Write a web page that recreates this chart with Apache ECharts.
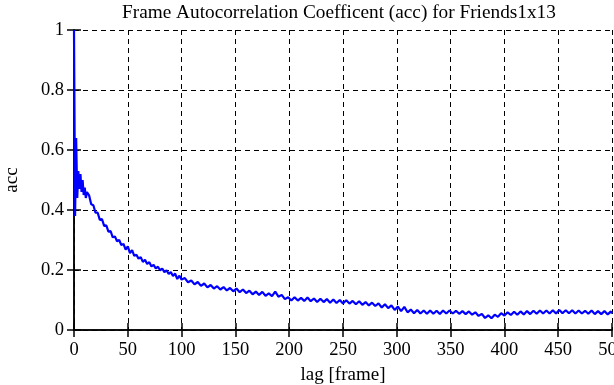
<!DOCTYPE html>
<html>
<head>
<meta charset="utf-8">
<script src="https://cdn.jsdelivr.net/npm/echarts@6/dist/echarts.min.js"></script>
<style>
  html, body { margin: 0; padding: 0; background: #fff; }
  #main { width: 614px; height: 385px; }
</style>
</head>
<body>
<div id="main"></div>
<script>
// lag [frame] samples
var lags = [
  0, 1, 2, 3, 4, 5, 6, 7, 8, 9, 10, 11, 12,
  14, 16, 18, 20, 22, 24, 26, 28, 30, 32, 34, 36, 38, 40, 42, 44, 46, 48, 50,
  52, 54, 56, 58, 60, 62, 64, 66, 68, 70, 72, 74, 76, 78, 80, 82, 84, 86, 88,
  90, 92, 94, 96, 98, 100,
  103, 106, 109, 112, 115, 118, 121, 124, 127, 130, 133, 136, 139, 142, 145,
  148, 151, 154, 157, 160, 163, 166, 169, 172, 175, 178, 181, 184, 187, 190,
  193, 196, 199, 202, 205, 208, 211, 214, 217, 220, 223, 226, 229, 232, 235,
  238, 241, 244, 247, 250, 253, 256, 259, 262, 265, 268, 271, 274, 277, 280,
  283, 286, 289, 292, 295, 298, 301, 304, 307, 310, 313, 316, 319, 322, 325,
  328, 331, 334, 337, 340, 343, 346, 349, 352, 355, 358, 361, 364, 367, 370,
  373, 376, 379, 382, 385, 388, 391, 394, 397, 400, 403, 406, 409, 412, 415,
  418, 421, 424, 427, 430, 433, 436, 439, 442, 445, 448, 451, 454, 457, 460,
  463, 466, 469, 472, 475, 478, 481, 484, 487, 490, 493, 496, 499, 500
];
// acc values
var acc = [
  1.0, 0.38, 0.64, 0.44, 0.53, 0.47, 0.52, 0.46, 0.50, 0.45, 0.475, 0.44, 0.46,
  0.449, 0.419, 0.416, 0.391, 0.391, 0.367, 0.370, 0.347, 0.349, 0.328, 0.330, 0.309, 0.312, 0.296, 0.300, 0.283, 0.287, 0.268, 0.279,
  0.256, 0.266, 0.247, 0.251, 0.238, 0.243, 0.227, 0.234, 0.220, 0.226, 0.212, 0.217, 0.205, 0.211, 0.199, 0.205, 0.193, 0.199, 0.187,
  0.193, 0.180, 0.188, 0.170, 0.181, 0.168,
  0.173, 0.159, 0.165, 0.152, 0.160, 0.147, 0.155, 0.142, 0.150, 0.138, 0.146, 0.135, 0.143, 0.132, 0.140,
  0.129, 0.138, 0.126, 0.135, 0.123, 0.131, 0.119, 0.128, 0.117, 0.127, 0.114, 0.122, 0.113, 0.128, 0.111,
  0.117, 0.103, 0.109, 0.098, 0.109, 0.098, 0.107, 0.097, 0.108, 0.096, 0.105, 0.093, 0.104, 0.093, 0.103,
  0.091, 0.102, 0.090, 0.100, 0.088, 0.099, 0.088, 0.097, 0.086, 0.096, 0.084, 0.093, 0.082, 0.091, 0.080,
  0.089, 0.075, 0.086, 0.073, 0.082, 0.067, 0.078, 0.063, 0.077, 0.059, 0.068, 0.056, 0.067, 0.055, 0.065,
  0.054, 0.065, 0.054, 0.064, 0.053, 0.065, 0.055, 0.065, 0.055, 0.064, 0.054, 0.063, 0.053, 0.062, 0.051,
  0.059, 0.047, 0.054, 0.040, 0.049, 0.039, 0.051, 0.044, 0.056, 0.048, 0.059, 0.050, 0.061, 0.051, 0.062,
  0.052, 0.063, 0.053, 0.064, 0.054, 0.065, 0.055, 0.065, 0.055, 0.066, 0.055, 0.067, 0.056, 0.066, 0.056,
  0.066, 0.055, 0.065, 0.055, 0.064, 0.054, 0.065, 0.053, 0.063, 0.053, 0.063, 0.052, 0.062, 0.055
];

var titleText = 'Frame Autocorrelation Coefficent (acc) for Friends1x13';
var xName = 'lag [frame]';
var yName = 'acc';

var font = 'Liberation Serif';
var points = [];
for (var i = 0; i < lags.length; i++) {
  points.push([lags[i], acc[i]]);
}

var chart = echarts.init(document.getElementById('main'), null, { renderer: 'canvas' });

var frameLine = { show: true, lineStyle: { color: '#000', width: 1.5 } };
var ticksIn = { show: true, inside: true, length: 7, lineStyle: { color: '#000', width: 1.5 } };
var dashed = { show: true, lineStyle: { color: '#000', width: 1, type: [5, 4] } };

chart.setOption({
  animation: false,
  backgroundColor: '#fff',
  title: {
    text: titleText,
    left: 117,
    top: -2,
    textStyle: { fontFamily: font, fontSize: 19.3, fontWeight: 'normal', color: '#000' }
  },
  grid: { left: 74, right: 2, top: 30, bottom: 55, containLabel: false, outerBoundsMode: 'none' },
  xAxis: [{
    type: 'value',
    min: 0, max: 500, interval: 50,
    name: xName,
    nameLocation: 'middle',
    nameGap: 36,
    nameTextStyle: { fontFamily: font, fontSize: 19, color: '#000' },
    axisLine: frameLine,
    axisTick: ticksIn,
    splitLine: dashed,
    axisLabel: { fontFamily: font, fontSize: 18.5, color: '#000', margin: 11 }
  }, {
    type: 'value',
    position: 'top',
    min: 0, max: 500, interval: 50,
    axisLine: frameLine,
    axisTick: ticksIn,
    splitLine: { show: false },
    axisLabel: { show: false }
  }],
  yAxis: [{
    type: 'value',
    min: 0, max: 1, interval: 0.2,
    name: yName,
    nameLocation: 'middle',
    nameGap: 52,
    nameTextStyle: { fontFamily: font, fontSize: 19, color: '#000' },
    axisLine: frameLine,
    axisTick: ticksIn,
    splitLine: dashed,
    axisLabel: { fontFamily: font, fontSize: 18.5, color: '#000', margin: 10, padding: [4, 0, 0, 0] }
  }, {
    type: 'value',
    position: 'right',
    min: 0, max: 1, interval: 0.2,
    axisLine: frameLine,
    axisTick: ticksIn,
    splitLine: { show: false },
    axisLabel: { show: false }
  }],
  series: [{
    type: 'line',
    data: points,
    showSymbol: false,
    symbol: 'none',
    lineStyle: { color: '#0000ff', width: 2.2 },
    z: 3
  }]
});
</script>
</body>
</html>
